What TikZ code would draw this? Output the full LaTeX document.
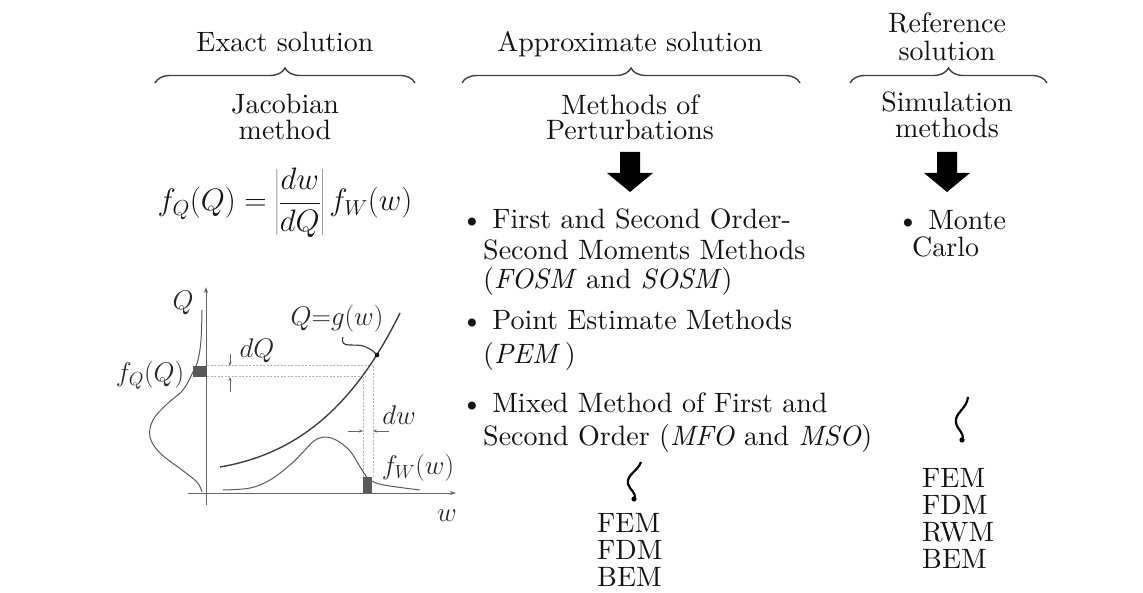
\RequirePackage{fix-cm}
\documentclass[tikz,border=0pt]{standalone}
\usepackage{fontspec}
\setmainfont{lmroman10-regular.otf}[ItalicFont=lmroman10-italic.otf, BoldFont=lmroman10-bold.otf]
\usetikzlibrary{decorations.pathreplacing,arrows.meta}
\begin{document}
\begin{tikzpicture}[x=1pt,y=-1pt,
  txt/.style={font=\fontsize{28}{28}\selectfont, text=black!92, inner sep=0pt, anchor=base},
  txtw/.style={txt, anchor=base west},
  lbl/.style={font=\fontsize{27}{28}\selectfont, text=black!85, inner sep=0pt},
  bracestyle/.style={decorate, decoration={brace, amplitude=15pt, aspect=0.5}, line width=1.4pt, draw=black!75},
  blockarrow/.style={fill=black},
  curve/.style={draw=black!65, line width=1pt},
  gcurve/.style={draw=black!75, line width=1.4pt},
  axis/.style={draw=black!60, line width=1pt, -{Stealth[length=6pt,width=4pt]}},
  guide/.style={draw=black!30, dashed, dash pattern=on 2pt off 1.5pt, line width=1pt},
  small/.style={draw=black!60, line width=0.8pt, -{Stealth[length=4pt,width=3pt]}},
  squig/.style={draw=black, line width=2.2pt}
]
\useasboundingbox (0,0) rectangle (1143,593);

% ---------- Exact solution column ----------
\node[txt] (exact) at (285,52) {Exact solution};
\coordinate (b1l) at (155,83); \coordinate (b1r) at (415,83);
\draw[bracestyle] (b1l) -- (b1r);
\node[txt] (jac1) at (285,114) {Jacobian};
\node[txt] (jac2) at (285,140) {method};
\node[font=\fontsize{31}{31}\selectfont, text=black!92, inner sep=0pt] (formula) at (285,203)
  {$f_Q\bigl(Q\bigr)=\left|\displaystyle\frac{dw}{dQ}\right|f_W\bigl(w\bigr)$};

% ---------- plot ----------
\coordinate (Qtop) at (206,287);
\coordinate (Qbot) at (206,505);
\coordinate (wl) at (188,493);
\coordinate (wr) at (456,493);
\draw[axis] (Qbot) -- (Qtop);
\draw[axis] (wl) -- (wr);
% guides
\coordinate (hu1) at (207,366); \coordinate (hu2) at (373,366);
\coordinate (hl1) at (207,377); \coordinate (hl2) at (365,377);
\coordinate (vl1) at (363,377); \coordinate (vl2) at (363,477);
\coordinate (vr1) at (373,366); \coordinate (vr2) at (373,477);
\draw[guide] (hu1) -- (hu2);
\draw[guide] (hl1) -- (hl2);
\draw[guide] (vl1) -- (vl2);
\draw[guide] (vr1) -- (vr2);
% shaded strips
\fill[black!65] (193,366) rectangle (207,377);
\fill[black!65] (363,477) rectangle (372,493);
% density of Q
\draw[curve] plot[smooth, tension=0.6] coordinates {(202,310) (201,340) (198,360) (193,372) (183,390) (167,404) (153,420) (150,437) (160,453) (182,470) (197,482) (202,492)};
% density of w
\draw[curve] plot[smooth, tension=0.6] coordinates {(223,490) (250,488) (270,480) (290,465) (304,451) (314,441) (324,437) (336,440) (350,451) (362,470) (370,480) (384,485) (420,490)};
% g(w)
\coordinate (g0) at (220,467); \coordinate (g1) at (400,313);
\draw[gcurve] (g0) .. controls (290,455) and (350,415) .. (g1);
\coordinate (gdot) at (377,355);
\fill[black] (gdot) circle (2.3pt);
\coordinate (gp) at (343,337);
\draw[line width=1.1pt, black!80] (gp) .. controls (339,350) and (356,342) .. (366,347) .. controls (372,350) .. (gdot);
% small dimension arrows
\draw[small] (230,354) -- (230,366);
\draw[small] (230,392) -- (230,377);
\draw[small] (348,431) -- (363,431);
\draw[small] (389,431) -- (373,431);
% labels
\node[lbl] (lQ) at (183,303) {$Q$};
\node[lbl] (lfQ) at (150,375) {$f_Q(Q)$};
\node[lbl] (ldQ) at (257,351) {$dQ$};
\node[lbl] (lg) at (337,319) {$Q{=}g(w)$};
\node[lbl] (ldw) at (399,415) {$dw$};
\node[lbl] (lfW) at (418,468) {$f_W(w)$};
\node[lbl] (lw) at (447,516) {$w$};

% ---------- Approximate solution column ----------
\node[txt] (approx) at (630,52) {Approximate solution};
\coordinate (b2l) at (462,83); \coordinate (b2r) at (800,83);
\draw[bracestyle] (b2l) -- (b2r);
\node[txt] (meth1) at (630,115) {Methods of};
\node[txt] (meth2) at (630,140) {Perturbations};
\begin{scope}[shift={(630,152)}]
  \fill[blockarrow] (-10,0) -- (10,0) -- (10,21) -- (23,21) -- (0,40) -- (-23,21) -- (-10,21) -- cycle;
\end{scope}
\node[txtw] (i1a) at (461,229) {\textbullet\ First and Second Order-};
\node[txtw] (i1b) at (483,260) {Second Moments Methods};
\node[txtw] (i1c) at (483,289) {(\textit{FOSM} and \textit{SOSM})};
\node[txtw] (i2a) at (461,330) {\textbullet\ Point Estimate Methods};
\node[txtw] (i2b) at (483,364) {(\textit{PEM}\,)};
\node[txtw] (i3a) at (461,413) {\textbullet\ Mixed Method of First and};
\node[txtw] (i3b) at (483,445) {Second Order (\textit{MFO} and \textit{MSO})};
\coordinate (s1t) at (641,462); \coordinate (s1b) at (634,499);
\draw[squig] (s1t) .. controls (638,471) and (626,475) .. (628,484) .. controls (630,491) and (637,492) .. (s1b);
\fill (s1b) circle (2.6pt);
\node[txtw] (a1) at (597,532) {FEM};
\node[txtw] (a2) at (597,559) {FDM};
\node[txtw] (a3) at (597,586) {BEM};

% ---------- Reference solution column ----------
\node[txt] (ref1) at (947,33) {Reference};
\node[txt] (ref2) at (947,61) {solution};
\coordinate (b3l) at (850,83); \coordinate (b3r) at (1047,83);
\draw[bracestyle] (b3l) -- (b3r);
\node[txt] (sim1) at (947,112) {Simulation};
\node[txt] (sim2) at (947,138) {methods};
\begin{scope}[shift={(947,152)}]
  \fill[blockarrow] (-10,0) -- (10,0) -- (10,21) -- (23,21) -- (0,40) -- (-23,21) -- (-10,21) -- cycle;
\end{scope}
\node[txtw] (mc1) at (897,230) {\textbullet\ Monte};
\node[txtw] (mc2) at (912,257) {Carlo};
\coordinate (s2t) at (968,397); \coordinate (s2b) at (962,440);
\draw[squig] (s2t) .. controls (967,409) and (954,413) .. (956,423) .. controls (958,431) and (965,433) .. (s2b);
\fill (s2b) circle (2.6pt);
\node[txtw] (r1) at (922,487) {FEM};
\node[txtw] (r2) at (922,514) {FDM};
\node[txtw] (r3) at (922,541) {RWM};
\node[txtw] (r4) at (922,568) {BEM};
\end{tikzpicture}
\end{document}
